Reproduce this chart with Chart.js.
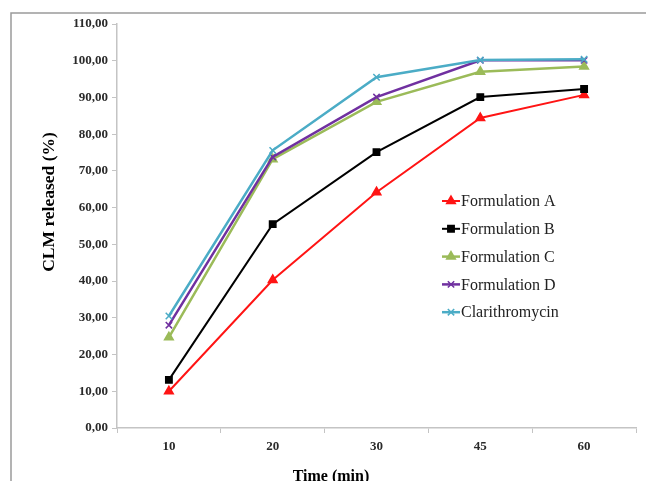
<!DOCTYPE html>
<html>
<head>
<meta charset="utf-8">
<script src="https://cdn.jsdelivr.net/npm/chart.js@4"></script>
<style>
  body { margin: 0; background: #fff; }
  #wrap { position: relative; width: 646px; height: 481px; }
</style>
</head>
<body>
<div id="wrap"><canvas id="myCanvas" width="646" height="481"></canvas></div>
<script>
// time points (min)
const timeLabels = ['10', '20', '30', '45', '60']
// % CLM released
const formA = [10.0, 40.3, 64.2, 84.4, 90.7]
const formB = [13.1, 55.5, 75.1, 90.1, 92.3]
const formC = [24.7, 73.2, 88.8, 97.0, 98.4]
const formD = [28.0, 73.8, 90.1, 100.1, 100.1]
const clarithro = [30.5, 75.6, 95.5, 100.2, 100.4]
// y ticks
const yTicks = [0, 10, 20, 30, 40, 50, 60, 70, 80, 90, 100, 110]

const serif = '"Liberation Serif", "Times New Roman", serif'

// frame, axis titles and legend drawn by hand to sit where the original has them
const extras = {
    id: 'extras',
    beforeDraw(chart) {
        let ctx = chart.ctx
        ctx.save()
        ctx.strokeStyle = '#9a9a9a'
        ctx.lineWidth = 1.5
        ctx.strokeRect(11, 13, 700, 600)
        ctx.restore()
    },
    afterDraw(chart) {
        let ctx = chart.ctx
        ctx.save()
        ctx.fillStyle = '#000'
        ctx.textAlign = 'center'
        ctx.textBaseline = 'middle'
        // y title
        ctx.save()
        ctx.font = 'bold 17.5px ' + serif
        ctx.translate(49, 202)
        ctx.rotate(-Math.PI / 2)
        ctx.fillText('CLM released (%)', 0, 0)
        ctx.restore()
        // x title
        ctx.font = 'bold 16px ' + serif
        ctx.fillText('Time (min)', 331, 477)

        // legend
        ctx.font = '16px ' + serif
        ctx.textAlign = 'left'
        chart.data.datasets.forEach((ds, i) => {
            let y = 201 + i * 27.8
            ctx.strokeStyle = ds.borderColor
            ctx.lineWidth = ds.borderWidth
            ctx.beginPath()
            ctx.moveTo(442, y)
            ctx.lineTo(460, y)
            ctx.stroke()
            ctx.fillStyle = ds.pointBackgroundColor
            ctx.strokeStyle = ds.borderColor
            ctx.lineWidth = 1.5
            Chart.helpers.drawPoint(ctx, {pointStyle: ds.pointStyle, radius: ds.pointRadius, borderWidth: 1.5}, 451, y)
            ctx.fillStyle = '#222'
            ctx.fillText(ds.label, 461, y + 1)
        })
        ctx.restore()
    }
}

function series(label, data, color, style, radius, width, order) {
    return {
        label: label,
        data: data,
        borderColor: color,
        backgroundColor: color,
        pointBackgroundColor: color,
        pointBorderColor: color,
        pointStyle: style,
        pointRadius: radius,
        pointBorderWidth: 1.5,
        borderWidth: width,
        tension: 0,
        fill: false,
        order: order
    }
}

let grafic = document.querySelector('#myCanvas').getContext('2d')
let myChart = new Chart(grafic, {
    type: 'line',
    data: {
        labels: timeLabels,
        datasets: [
            series('Formulation A', formA, '#ff1414', 'triangle', 5, 2, 5),
            series('Formulation B', formB, '#000000', 'rect', 4.5, 2, 4),
            series('Formulation C', formC, '#9bbb59', 'triangle', 5, 2.5, 3),
            series('Formulation D', formD, '#7030a0', 'crossRot', 4.5, 2.5, 2),
            series('Clarithromycin', clarithro, '#4bacc6', 'crossRot', 4.5, 2.5, 1)
        ]
    },
    options: {
        responsive: false,
        animation: false,
        layout: { padding: { left: 0, top: 24, right: 10, bottom: 0 } },
        scales: {
            x: {
                offset: true,
                grid: { offset: true, drawOnChartArea: false, color: '#c4c4c4', tickLength: 5, tickColor: '#c4c4c4' },
                border: { color: '#c4c4c4', width: 1.5 },
                ticks: { color: '#2a2a2a', padding: 6, font: { family: serif, size: 13, weight: 'bold' } },
                afterFit: (scale) => { scale.height = 53 }
            },
            y: {
                min: 0,
                max: 110,
                afterBuildTicks: (scale) => { scale.ticks = yTicks.map(v => ({ value: v })) },
                grid: { drawOnChartArea: false, color: '#c4c4c4', tickLength: 5, tickColor: '#c4c4c4' },
                border: { color: '#c4c4c4', width: 1.5 },
                ticks: {
                    color: '#2a2a2a',
                    padding: 4,
                    font: { family: serif, size: 13, weight: 'bold' },
                    callback: (v) => Number(v).toFixed(2).replace('.', ',')
                },
                afterFit: (scale) => { scale.width = 117 }
            }
        },
        plugins: {
            legend: { display: false },
            tooltip: { enabled: false }
        }
    },
    plugins: [extras]
})
</script>
</body>
</html>
